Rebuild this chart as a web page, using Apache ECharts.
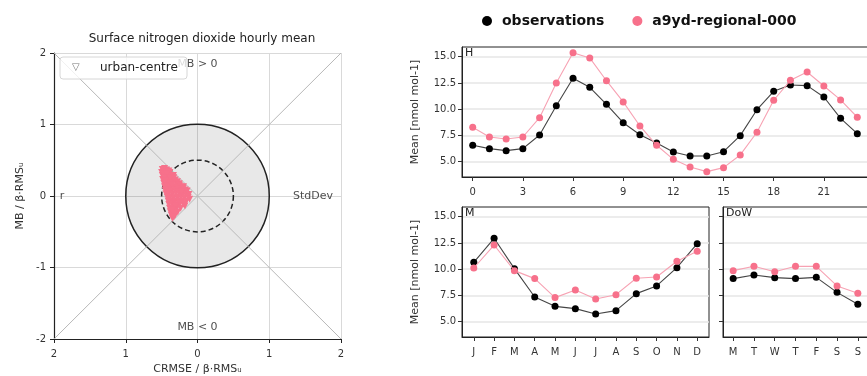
<!DOCTYPE html>
<html><head><meta charset="utf-8">
<script src="https://cdn.jsdelivr.net/npm/echarts@6/dist/echarts.min.js"></script>
<style>html,body{margin:0;padding:0;background:#fff}#c{width:867px;height:376px}</style>
</head><body><div id="c"></div>
<script>
// ---------- data ----------
const hours = [0,1,2,3,4,5,6,7,8,9,10,11,12,13,14,15,16,17,18,19,20,21,22,23];
const hourTicks = [0,3,6,9,12,15,18,21];
const obsHour = [6.56,6.24,6.05,6.24,7.54,10.33,12.94,12.08,10.46,8.71,7.57,6.78,5.92,5.54,5.54,5.95,7.48,9.95,11.70,12.30,12.24,11.16,9.13,7.67];
const modHour = [8.27,7.35,7.16,7.35,9.19,12.50,15.38,14.88,12.71,10.69,8.40,6.56,5.22,4.50,4.05,4.43,5.64,7.80,10.85,12.75,13.54,12.21,10.88,9.23];
const months = ['J','F','M','A','M','J','J','A','S','O','N','D'];
const obsMonth = [10.65,12.94,10.05,7.35,6.46,6.24,5.73,6.05,7.67,8.40,10.14,12.43];
const modMonth = [10.11,12.30,9.86,9.10,7.29,8.02,7.16,7.57,9.13,9.25,10.75,11.70];
const days = ['M','T','W','T','F','S','S'];
const obsDow = [9.10,9.44,9.19,9.10,9.22,7.79,6.65];
const modDow = [9.86,10.27,9.76,10.27,10.27,8.40,7.70];
const meanTicks = [5,7.5,10,12.5,15];
const targetPoints = [
 [-0.49,0.37],[-0.46,0.385],[-0.43,0.365],[-0.475,0.355],
 [-0.50,0.33],[-0.46,0.335],[-0.42,0.325],[-0.385,0.33],[-0.40,0.35],
 [-0.49,0.285],[-0.45,0.28],[-0.41,0.29],[-0.37,0.275],[-0.335,0.285],[-0.47,0.305],[-0.43,0.31],
 [-0.485,0.23],[-0.44,0.235],[-0.40,0.225],[-0.36,0.23],[-0.31,0.225],[-0.46,0.255],[-0.38,0.25],[-0.33,0.255],
 [-0.47,0.18],[-0.43,0.185],[-0.39,0.175],[-0.35,0.18],[-0.30,0.185],[-0.255,0.17],[-0.45,0.205],[-0.28,0.2],
 [-0.46,0.13],[-0.42,0.135],[-0.38,0.125],[-0.33,0.13],[-0.28,0.135],[-0.23,0.125],[-0.195,0.13],[-0.36,0.155],[-0.25,0.15],
 [-0.45,0.08],[-0.41,0.085],[-0.36,0.075],[-0.31,0.08],[-0.27,0.09],[-0.22,0.075],[-0.17,0.085],[-0.145,0.07],[-0.2,0.105],
 [-0.44,0.03],[-0.40,0.035],[-0.35,0.025],[-0.30,0.03],[-0.25,0.035],[-0.20,0.025],[-0.16,0.03],[-0.12,0.02],[-0.225,0.055],
 [-0.42,-0.02],[-0.38,-0.015],[-0.33,-0.025],[-0.28,-0.02],[-0.23,-0.015],[-0.18,-0.025],[-0.13,-0.02],[-0.11,-0.045],
 [-0.41,-0.07],[-0.36,-0.065],[-0.31,-0.075],[-0.26,-0.07],[-0.21,-0.065],[-0.155,-0.075],[-0.34,-0.095],[-0.24,-0.095],
 [-0.40,-0.12],[-0.35,-0.115],[-0.30,-0.125],[-0.25,-0.12],[-0.195,-0.115],[-0.175,-0.14],
 [-0.39,-0.17],[-0.34,-0.165],[-0.29,-0.175],[-0.235,-0.17],[-0.31,-0.145],
 [-0.38,-0.22],[-0.33,-0.215],[-0.275,-0.225],[-0.355,-0.195],
 [-0.365,-0.27],[-0.31,-0.265],[-0.335,-0.245],
 [-0.35,-0.31],[-0.33,-0.295]
];
const refCircles = [1, 0.5];
const diag1 = [[-2,-2],[2,2]];
const diag2 = [[-2,2],[2,-2]];
const targetNotes = [[0,1.85,'MB > 0'],[0,-1.84,'MB < 0'],[-1.89,0,'r'],[1.61,0,'StdDev']];

// ---------- chart ----------
const FONT = 'DejaVu Sans';
const chart = echarts.init(document.getElementById('c'), null, {renderer:'canvas'});
const pink = '#f7718b', pinkLine = '#f7a2b3', black = '#000', greyLine = '#444';
const txt = {fontFamily: FONT, fontSize: 10, color: '#333'};

function panelX(idx, min, max, ticks, fmt) {
  return {type:'value', gridIndex: idx, min, max,
    axisLine:{show:true, onZero:false, lineStyle:{color:'#222', width:1}},
    axisTick:{show:true, length:4, lineStyle:{color:'#333'}, customValues: ticks},
    axisLabel:Object.assign({show:true, margin:10, customValues: ticks, formatter: fmt}, txt),
    splitLine:{show:false}};
}
function panelY(idx, showLabel, name) {
  return {type:'value', gridIndex: idx, min:3.54, max:15.92,
    name: name || '', nameLocation:'middle', nameGap:41,
    nameTextStyle:{fontFamily:FONT, fontSize:11, color:'#333'},
    axisLine:{show:true, onZero:false, lineStyle:{color:'#222', width:1}},
    axisTick:{show:true, length:4, lineStyle:{color:'#333'}, customValues: meanTicks},
    axisLabel:Object.assign({show:showLabel, margin:6, customValues: meanTicks, formatter: v => v.toFixed(1)}, txt),
    splitLine:{show:true, lineStyle:{color:'#e6e6e6', width:1.5}}};
}
function lineSeries(name, idx, xs, ys, isObs) {
  return {name, type:'line', xAxisIndex: idx, yAxisIndex: idx,
    data: xs.map((x,i)=>[x, ys[i]]),
    symbol:'circle', symbolSize:7, showSymbol:true,
    itemStyle:{color: isObs ? black : pink},
    lineStyle:{color: isObs ? greyLine : pinkLine, width:1.1},
    z: isObs ? 3 : 4, silent:true};
}

const option = {
  animation:false,
  textStyle:{fontFamily:FONT},
  legend:{data:['observations','a9yd-regional-000'], left:477, top:9,
    icon:'circle', itemWidth:10, itemHeight:10, itemGap:28,
    textStyle:{fontFamily:FONT, fontSize:14, fontWeight:'bold', color:'#111', padding:[0,0,0,5]}},
  title:{text:'Surface nitrogen dioxide hourly mean', left:197, top:28, textAlign:'center',
    textStyle:{fontFamily:FONT, fontSize:12, fontWeight:'normal', color:'#222'}},
  grid:[
    {left:54, top:53, width:287, height:286, outerBoundsMode:'none', containLabel:false},
    {left:462, top:47, width:406, height:130, show:true, borderColor:'#222', borderWidth:1, outerBoundsMode:'none', containLabel:false},
    {left:462, top:207, width:247, height:130, show:true, borderColor:'#222', borderWidth:1, outerBoundsMode:'none', containLabel:false},
    {left:723, top:207, width:145, height:130, show:true, borderColor:'#222', borderWidth:1, outerBoundsMode:'none', containLabel:false}
  ],
  xAxis:[
    {type:'value', gridIndex:0, min:-2, max:2, interval:1,
      name:'CRMSE / β·RMSᵤ', nameLocation:'middle', nameGap:25,
      nameTextStyle:{fontFamily:FONT, fontSize:11, color:'#333'},
      axisLine:{show:true, onZero:false, lineStyle:{color:'#222', width:1.2}},
      axisTick:{show:true, length:4, lineStyle:{color:'#222'}},
      axisLabel:Object.assign({margin:10, formatter: v => String(Math.abs(v))}, txt),
      splitLine:{show:true, lineStyle:{color:'#d9d9d9', width:1}}},
    panelX(1, -0.64, 23.64, hourTicks, v => String(v)),
    panelX(2, -0.58, 11.58, months.map((m,i)=>i), v => months[v]),
    panelX(3, -0.49, 6.49, days.map((d,i)=>i), v => days[v])
  ],
  yAxis:[
    {type:'value', gridIndex:0, min:-2, max:2, interval:1,
      name:'MB / β·RMSᵤ', nameLocation:'middle', nameGap:28,
      nameTextStyle:{fontFamily:FONT, fontSize:11, color:'#333'},
      axisLine:{show:true, onZero:false, lineStyle:{color:'#222', width:1.2}},
      axisTick:{show:true, length:4, lineStyle:{color:'#222'}},
      axisLabel:Object.assign({margin:8, formatter: v => String(v)}, txt),
      splitLine:{show:true, lineStyle:{color:'#d9d9d9', width:1}}},
    panelY(1, true, 'Mean [nmol mol-1]'),
    panelY(2, true, 'Mean [nmol mol-1]'),
    panelY(3, false, '')
  ],
  series:[
    {type:'custom', xAxisIndex:0, yAxisIndex:0, silent:true, z:1,
      data: refCircles.map(r => [0,0,r]),
      renderItem:(params, api) => {
        const c = api.coord([api.value(0), api.value(1)]);
        const e = api.coord([api.value(0) + api.value(2), api.value(1)]);
        const r = e[0] - c[0];
        const outer = api.value(2) >= 1;
        return {type:'circle', shape:{cx:c[0], cy:c[1], r},
          style:{fill: outer ? 'rgba(0,0,0,0.09)' : 'none', stroke:'#222',
            lineWidth:1.5, lineDash: outer ? null : [5,3]}};
      }},
    {type:'line', xAxisIndex:0, yAxisIndex:0, data:diag1, symbol:'none', silent:true, z:2,
      lineStyle:{color:'#b8b8b8', width:1}},
    {type:'line', xAxisIndex:0, yAxisIndex:0, data:diag2, symbol:'none', silent:true, z:2,
      lineStyle:{color:'#b8b8b8', width:1}},
    {name:'urban-centre', type:'scatter', xAxisIndex:0, yAxisIndex:0, data:targetPoints,
      symbol:'triangle', symbolRotate:180, symbolSize:7, silent:true, z:5,
      itemStyle:{color:pink, opacity:1}},
    {type:'scatter', xAxisIndex:0, yAxisIndex:0, data:targetNotes, symbolSize:0, silent:true, z:6,
      label:{show:true, position:'inside', formatter: p => p.data[2],
        fontFamily:FONT, fontSize:11, color:'#222'}},
    lineSeries('observations', 1, hours, obsHour, true),
    lineSeries('a9yd-regional-000', 1, hours, modHour, false),
    lineSeries('observations', 2, months.map((m,i)=>i), obsMonth, true),
    lineSeries('a9yd-regional-000', 2, months.map((m,i)=>i), modMonth, false),
    lineSeries('observations', 3, days.map((d,i)=>i), obsDow, true),
    lineSeries('a9yd-regional-000', 3, days.map((d,i)=>i), modDow, false)
  ],
  graphic:[
    {type:'rect', z:100, shape:{x:60, y:57, width:127, height:22, r:3},
      style:{fill:'rgba(255,255,255,0.8)', stroke:'#d6d6d6', lineWidth:1}},
    {type:'text', z:101, x:72, y:62, style:{text:'▽', font:'10px "DejaVu Sans"', fill:'#777'}},
    {type:'text', z:101, x:100, y:62, style:{text:'urban-centre', font:'12px "DejaVu Sans"', fill:'#222'}},
    {type:'text', z:101, x:465, y:48, style:{text:'H', font:'11px "DejaVu Sans"', fill:'#222'}},
    {type:'text', z:101, x:465, y:208, style:{text:'M', font:'11px "DejaVu Sans"', fill:'#222'}},
    {type:'text', z:101, x:726, y:208, style:{text:'DoW', font:'11px "DejaVu Sans"', fill:'#222'}}
  ]
};
chart.setOption(option);
</script></body></html>
